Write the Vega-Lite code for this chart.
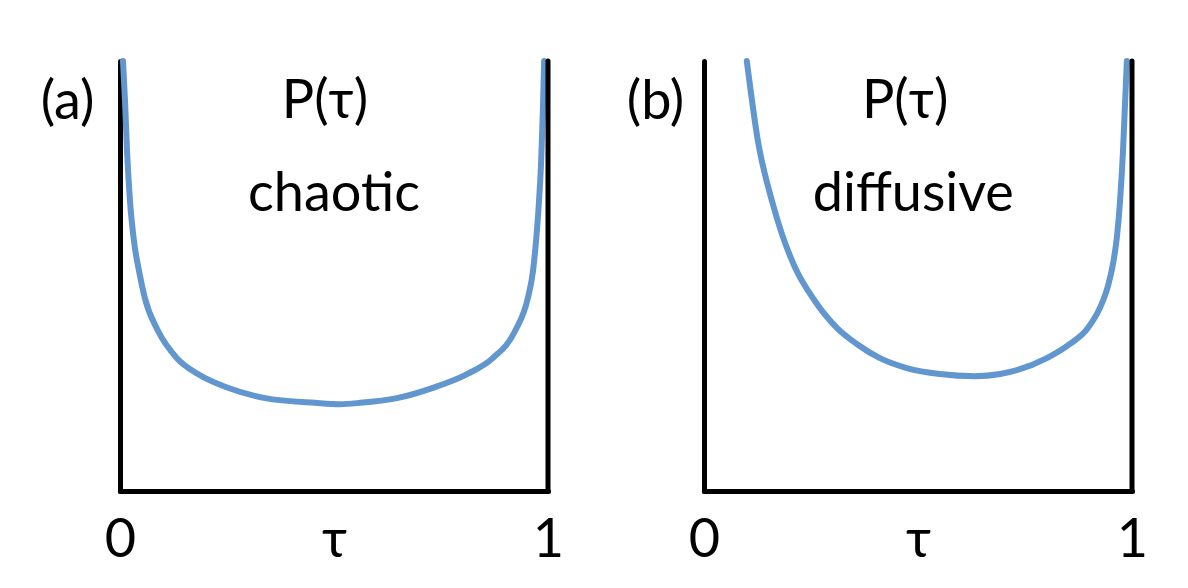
{
  "$schema": "https://vega.github.io/schema/vega-lite/v6.json",
  "background": "white",
  "padding": {"left": 40, "top": 49, "right": 0, "bottom": 0},
  "bounds": "flush",
  "spacing": 156,
  "config": {
    "view": {"stroke": null},
    "axis": {
      "domainColor": "black", "domainWidth": 5, "domainCap": "round",
      "ticks": false, "tickSize": 0, "grid": false,
      "labelFont": "Lato", "labelFontSize": 54, "labelColor": "black",
      "titleFont": "Lato", "titleFontSize": 54, "titleColor": "black", "titleFontWeight": "normal"
    },
    "text": {"font": "Lato", "fontSize": 54, "color": "black", "align": "center", "baseline": "alphabetic"}
  },
  "datasets": {
    "curves": [
      {"panel": "a", "tau": 0.007, "P": 10.0},
      {"panel": "a", "tau": 0.0117, "P": 9.07},
      {"panel": "a", "tau": 0.0164, "P": 7.91},
      {"panel": "a", "tau": 0.0234, "P": 6.74},
      {"panel": "a", "tau": 0.0327, "P": 5.81},
      {"panel": "a", "tau": 0.0444, "P": 5.12},
      {"panel": "a", "tau": 0.058, "P": 4.49},
      {"panel": "a", "tau": 0.089, "P": 3.72},
      {"panel": "a", "tau": 0.133, "P": 3.09},
      {"panel": "a", "tau": 0.182, "P": 2.72},
      {"panel": "a", "tau": 0.252, "P": 2.40},
      {"panel": "a", "tau": 0.339, "P": 2.16},
      {"panel": "a", "tau": 0.456, "P": 2.05},
      {"panel": "a", "tau": 0.514, "P": 2.02},
      {"panel": "a", "tau": 0.561, "P": 2.05},
      {"panel": "a", "tau": 0.647, "P": 2.16},
      {"panel": "a", "tau": 0.731, "P": 2.40},
      {"panel": "a", "tau": 0.811, "P": 2.72},
      {"panel": "a", "tau": 0.871, "P": 3.09},
      {"panel": "a", "tau": 0.923, "P": 3.72},
      {"panel": "a", "tau": 0.953, "P": 4.49},
      {"panel": "a", "tau": 0.965, "P": 5.12},
      {"panel": "a", "tau": 0.972, "P": 5.81},
      {"panel": "a", "tau": 0.979, "P": 6.74},
      {"panel": "a", "tau": 0.984, "P": 7.67},
      {"panel": "a", "tau": 0.988, "P": 8.84},
      {"panel": "a", "tau": 0.991, "P": 10.0},
      {"panel": "b", "tau": 0.100, "P": 10.0},
      {"panel": "b", "tau": 0.126, "P": 8.14},
      {"panel": "b", "tau": 0.159, "P": 6.74},
      {"panel": "b", "tau": 0.182, "P": 5.98},
      {"panel": "b", "tau": 0.213, "P": 5.19},
      {"panel": "b", "tau": 0.259, "P": 4.42},
      {"panel": "b", "tau": 0.311, "P": 3.79},
      {"panel": "b", "tau": 0.357, "P": 3.42},
      {"panel": "b", "tau": 0.411, "P": 3.09},
      {"panel": "b", "tau": 0.474, "P": 2.86},
      {"panel": "b", "tau": 0.551, "P": 2.72},
      {"panel": "b", "tau": 0.633, "P": 2.67},
      {"panel": "b", "tau": 0.692, "P": 2.72},
      {"panel": "b", "tau": 0.731, "P": 2.81},
      {"panel": "b", "tau": 0.801, "P": 3.09},
      {"panel": "b", "tau": 0.855, "P": 3.42},
      {"panel": "b", "tau": 0.897, "P": 3.79},
      {"panel": "b", "tau": 0.932, "P": 4.42},
      {"panel": "b", "tau": 0.944, "P": 4.77},
      {"panel": "b", "tau": 0.956, "P": 5.30},
      {"panel": "b", "tau": 0.965, "P": 5.93},
      {"panel": "b", "tau": 0.972, "P": 6.74},
      {"panel": "b", "tau": 0.979, "P": 7.91},
      {"panel": "b", "tau": 0.984, "P": 9.07},
      {"panel": "b", "tau": 0.988, "P": 10.0}
    ],
    "labels": [
      {"panel": "a", "tau": 0.479, "P": 8.67, "label": "P(τ)"},
      {"panel": "a", "tau": 0.5, "P": 6.51, "label": "chaotic"},
      {"panel": "b", "tau": 0.470, "P": 8.67, "label": "P(τ)"},
      {"panel": "b", "tau": 0.489, "P": 6.51, "label": "diffusive"}
    ],
    "frame": [
      {"tau": 1, "P0": 0, "P1": 10}
    ]
  },
  "hconcat": [
    {
      "width": 428, "height": 430,
      "layer": [
        {
          "data": {"name": "curves"},
          "transform": [{"filter": "datum.panel === 'a'"}],
          "mark": {"type": "line", "color": "#6196cf", "strokeWidth": 6, "strokeCap": "round", "interpolate": "monotone"},
          "encoding": {
            "x": {"field": "tau", "type": "quantitative", "scale": {"domain": [0, 1], "nice": false, "zero": false},
                  "axis": {"values": [0, 1], "format": "d", "labelBaseline": "alphabetic", "labelPadding": 65, "labelFlush": false, "labelOverlap": false, "title": "τ", "titleBaseline": "alphabetic", "titleY": 65}},
            "y": {"field": "P", "type": "quantitative", "scale": {"domain": [0, 10], "nice": false, "zero": false},
                  "axis": {"labels": false, "title": "(a)", "titleAngle": 0, "titleAlign": "center", "titleBaseline": "alphabetic", "titleX": -53, "titleY": 57}}
          }
        },
        {
          "data": {"name": "frame"},
          "mark": {"type": "rule", "color": "black", "strokeWidth": 5, "strokeCap": "round"},
          "encoding": {
            "x": {"field": "tau", "type": "quantitative"},
            "y": {"field": "P0", "type": "quantitative"},
            "y2": {"field": "P1"}
          }
        },
        {
          "data": {"name": "labels"},
          "transform": [{"filter": "datum.panel === 'a'"}],
          "mark": {"type": "text"},
          "encoding": {
            "x": {"field": "tau", "type": "quantitative"},
            "y": {"field": "P", "type": "quantitative"},
            "text": {"field": "label"}
          }
        }
      ]
    },
    {
      "width": 428, "height": 430,
      "layer": [
        {
          "data": {"name": "curves"},
          "transform": [{"filter": "datum.panel === 'b'"}],
          "mark": {"type": "line", "color": "#6196cf", "strokeWidth": 6, "strokeCap": "round", "interpolate": "monotone"},
          "encoding": {
            "x": {"field": "tau", "type": "quantitative", "scale": {"domain": [0, 1], "nice": false, "zero": false},
                  "axis": {"values": [0, 1], "format": "d", "labelBaseline": "alphabetic", "labelPadding": 65, "labelFlush": false, "labelOverlap": false, "title": "τ", "titleBaseline": "alphabetic", "titleY": 65}},
            "y": {"field": "P", "type": "quantitative", "scale": {"domain": [0, 10], "nice": false, "zero": false},
                  "axis": {"labels": false, "title": "(b)", "titleAngle": 0, "titleAlign": "center", "titleBaseline": "alphabetic", "titleX": -49, "titleY": 57}}
          }
        },
        {
          "data": {"name": "frame"},
          "mark": {"type": "rule", "color": "black", "strokeWidth": 5, "strokeCap": "round"},
          "encoding": {
            "x": {"field": "tau", "type": "quantitative"},
            "y": {"field": "P0", "type": "quantitative"},
            "y2": {"field": "P1"}
          }
        },
        {
          "data": {"name": "labels"},
          "transform": [{"filter": "datum.panel === 'b'"}],
          "mark": {"type": "text"},
          "encoding": {
            "x": {"field": "tau", "type": "quantitative"},
            "y": {"field": "P", "type": "quantitative"},
            "text": {"field": "label"}
          }
        }
      ]
    }
  ]
}
